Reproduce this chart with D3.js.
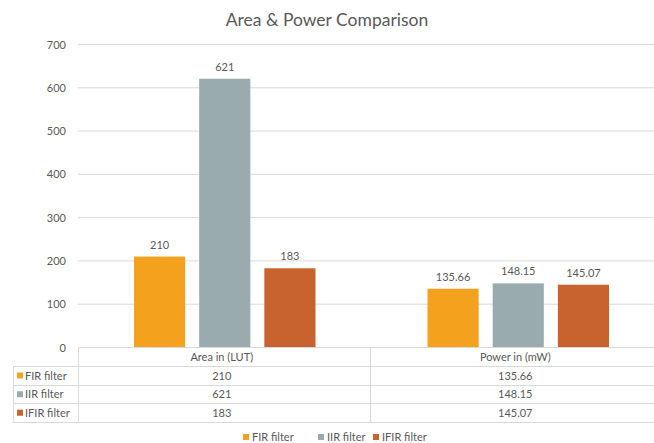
<!DOCTYPE html>
<html><head><meta charset="utf-8">
<script src="https://cdn.jsdelivr.net/npm/d3@7"></script>
<style>body{margin:0;background:#fff}svg{display:block}text{font-family:Lato,"Open Sans",sans-serif;fill:#595959}</style>
</head><body><svg id="c" width="654" height="443"></svg>
<script>
const categories = ["Area in (LUT)", "Power in (mW)"];
const seriesNames = ["FIR filter", "IIR filter", "IFIR filter"];
const firValues = [210, 135.66];
const iirValues = [621, 148.15];
const ifirValues = [183, 145.07];
const valueLabels = [["210","135.66"],["621","148.15"],["183","145.07"]];
const yTicks = [0,100,200,300,400,500,600,700];
const colors = ["#F4A21E","#9AABB0","#C8632F"];
const series = [firValues, iirValues, ifirValues];

const svg = d3.select("#c");
const L = 78, R = 665, T = 44.5, B = 347.5;
const y = d3.scaleLinear().domain([0,700]).range([B,T]);
const x0 = d3.scaleBand().domain(categories).range([L,R]).padding(0);
const x1 = d3.scaleBand().domain(seriesNames).range([56, x0.bandwidth()-56]).paddingInner(0.215).paddingOuter(0);

svg.append("text").attr("x",327).attr("y",26).attr("text-anchor","middle")
  .style("font-size","17.5px").text("Area & Power Comparison");

// grid
svg.append("g").selectAll("line").data(yTicks.filter(d=>d>0)).join("line")
  .attr("x1",L).attr("x2",654).attr("y1",d=>y(d)).attr("y2",d=>y(d))
  .attr("stroke","#d9d9d9").attr("stroke-width",1);
const yAxis = d3.axisLeft(y).tickValues(yTicks).tickSize(0).tickPadding(12);
const ga = svg.append("g").attr("transform",`translate(${L},0)`).call(yAxis);
ga.select(".domain").remove();
ga.selectAll("text").style("font-size","11px").style("fill","#595959").style("font-family","Lato");

// bars
const g = svg.append("g");
series.forEach((vals,si)=>{
  categories.forEach((c,ci)=>{
    const bx = x0(c)+x1(seriesNames[si]);
    g.append("rect").attr("x",bx).attr("y",y(vals[ci])).attr("width",x1.bandwidth())
      .attr("height",y(0)-y(vals[ci])).attr("fill",colors[si]);
    g.append("text").attr("x",bx+x1.bandwidth()/2).attr("y",y(vals[ci])-8)
      .attr("text-anchor","middle").style("font-size","11px").text(valueLabels[si][ci]);
  });
});

// table
const rowTop = [347.5, 366, 385, 403.5, 422];
const gc = "#d9d9d9";
const tg = svg.append("g").attr("stroke",gc).attr("stroke-width",1).attr("shape-rendering","crispEdges");
tg.append("line").attr("x1",L).attr("x2",654).attr("y1",rowTop[0]).attr("y2",rowTop[0]);
for(let i=1;i<rowTop.length;i++) tg.append("line").attr("x1",13).attr("x2",654).attr("y1",rowTop[i]).attr("y2",rowTop[i]);
tg.append("line").attr("x1",13).attr("x2",13).attr("y1",rowTop[1]).attr("y2",rowTop[4]);
tg.append("line").attr("x1",L).attr("x2",L).attr("y1",rowTop[0]).attr("y2",rowTop[4]);
tg.append("line").attr("x1",x0(categories[1])-1).attr("x2",x0(categories[1])-1).attr("y1",rowTop[0]).attr("y2",rowTop[4]);

categories.forEach(c=>{
  svg.append("text").attr("x",x0(c)+x0.bandwidth()/2-3).attr("y",(rowTop[0]+rowTop[1])/2+4)
    .attr("text-anchor","middle").style("font-size","11px").text(c);
});
seriesNames.forEach((s,si)=>{
  const cy = (rowTop[si+1]+rowTop[si+2])/2;
  svg.append("rect").attr("x",17).attr("y",cy-3).attr("width",6).attr("height",6).attr("fill",colors[si]);
  svg.append("text").attr("x",25).attr("y",cy+4).style("font-size","11px").text(s);
  categories.forEach((c,ci)=>{
    svg.append("text").attr("x",x0(c)+x0.bandwidth()/2-3).attr("y",cy+4)
      .attr("text-anchor","middle").style("font-size","11px").text(valueLabels[si][ci]);
  });
});

// legend
const legX = [243, 318, 373];
seriesNames.forEach((s,si)=>{
  svg.append("rect").attr("x",legX[si]).attr("y",434).attr("width",6).attr("height",6).attr("fill",colors[si]);
  svg.append("text").attr("x",legX[si]+9).attr("y",441).style("font-size","11px").text(s);
});
</script></body></html>
